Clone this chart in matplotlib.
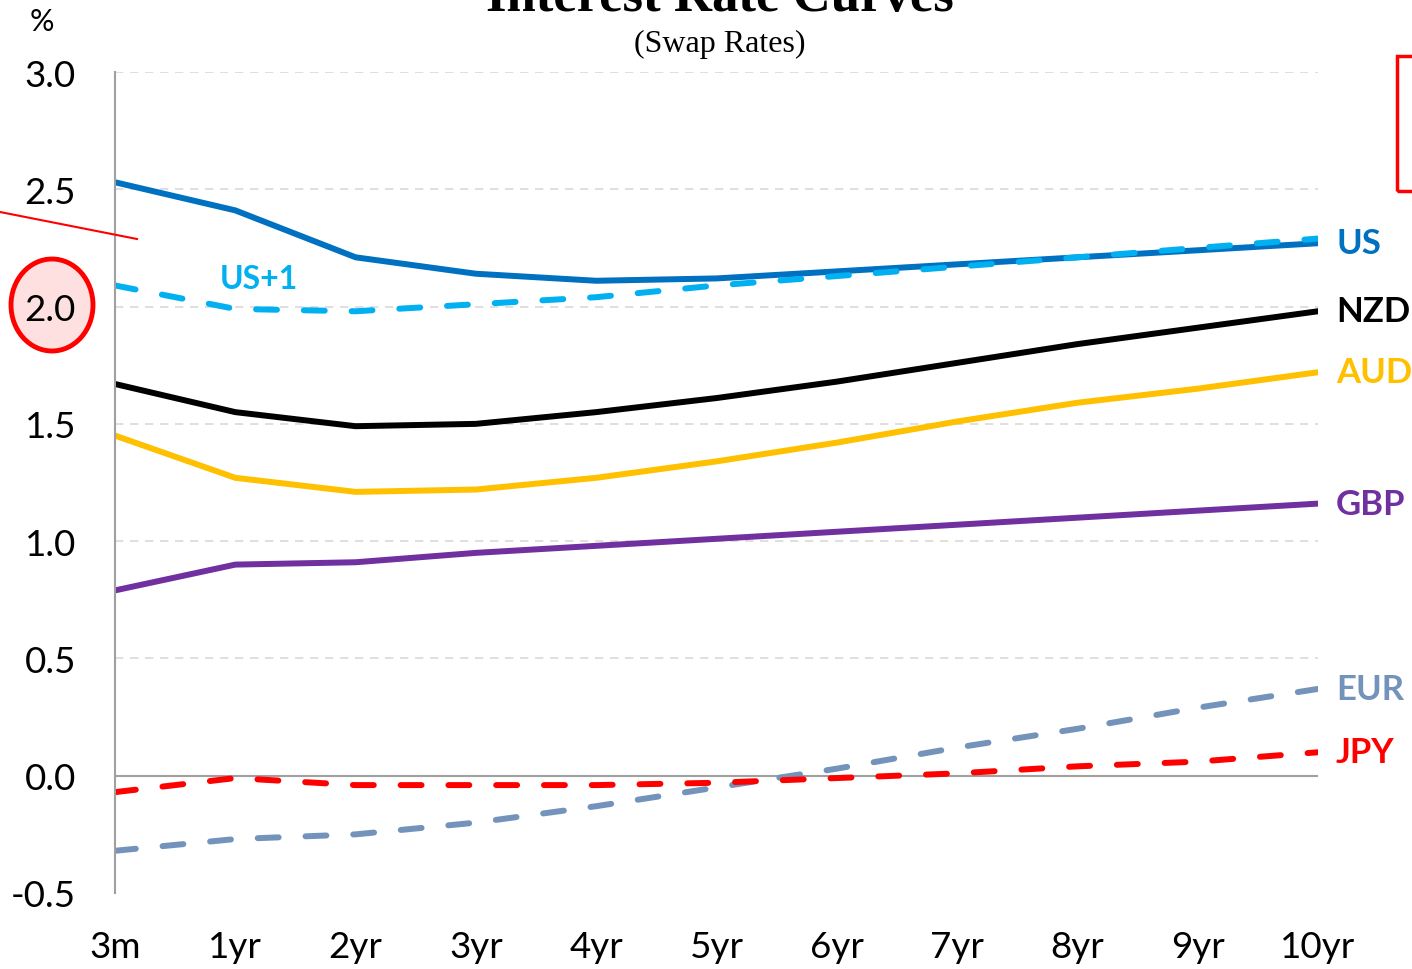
import numpy as np
import matplotlib.pyplot as plt
from matplotlib.patches import Ellipse, Rectangle
from matplotlib.lines import Line2D

tenors = ["3m", "1yr", "2yr", "3yr", "4yr", "5yr", "6yr", "7yr", "8yr", "9yr", "10yr"]

us = [2.53, 2.41, 2.21, 2.14, 2.11, 2.12, 2.15, 2.18, 2.21, 2.24, 2.27]
us_plus1 = [2.09, 1.99, 1.98, 2.01, 2.04, 2.09, 2.13, 2.17, 2.21, 2.25, 2.29]
nzd = [1.67, 1.55, 1.49, 1.50, 1.55, 1.61, 1.68, 1.76, 1.84, 1.91, 1.98]
aud = [1.45, 1.27, 1.21, 1.22, 1.27, 1.34, 1.42, 1.51, 1.59, 1.65, 1.72]
gbp = [0.79, 0.90, 0.91, 0.95, 0.98, 1.01, 1.04, 1.07, 1.10, 1.13, 1.16]
eur = [-0.32, -0.27, -0.25, -0.20, -0.13, -0.05, 0.03, 0.12, 0.20, 0.29, 0.37]
jpy = [-0.07, -0.01, -0.04, -0.04, -0.04, -0.03, -0.01, 0.01, 0.04, 0.06, 0.10]

W, H = 1412, 970
fig = plt.figure(figsize=(W / 100, H / 100), dpi=100)
ax = fig.add_axes([115 / W, (H - 894) / H, (1318 - 115) / W, (894 - 73) / H])

x = np.arange(len(tenors))
lw = 4.3
dash = (0, (3.5, 4.5))
sans = ["Lato", "DejaVu Sans"]
serif = ["Liberation Serif", "DejaVu Serif"]

for yv in np.arange(0.5, 3.01, 0.5):
    ax.axhline(yv, color="#d9d9d9", lw=1.2, ls=(0, (5, 4)), zorder=0)
ax.axhline(0, color="#a0a0a0", lw=1.5, zorder=1)

ax.plot(x, eur, color="#7393BA", lw=lw, ls=dash, dash_capstyle="round")
ax.plot(x, jpy, color="#FF0000", lw=lw, ls=dash, dash_capstyle="round")
ax.plot(x, gbp, color="#7030A0", lw=lw)
ax.plot(x, aud, color="#FFC000", lw=lw)
ax.plot(x, nzd, color="#000000", lw=lw)
ax.plot(x, us, color="#0070C0", lw=lw)
ax.plot(x, us_plus1, color="#00B0F0", lw=lw, ls=dash, dash_capstyle="round")

ax.set_xlim(0, 10)
ax.set_ylim(-0.5, 3.0)
ax.set_xticks(x)
ax.set_xticklabels(tenors)
ax.set_yticks(np.arange(-0.5, 3.01, 0.5))
ax.set_yticklabels([f"{v:.1f}" for v in np.arange(-0.5, 3.01, 0.5)])
for s in ["top", "right", "bottom"]:
    ax.spines[s].set_visible(False)
ax.spines["left"].set_color("#a0a0a0")
ax.spines["left"].set_linewidth(1.5)
ax.tick_params(length=0, labelsize=26.5)
ax.tick_params(axis="y", pad=28)
ax.tick_params(axis="x", pad=27)
for lab in ax.get_xticklabels() + ax.get_yticklabels():
    lab.set_family(sans)

# end labels
labels = [("US", us[-1], "#0070C0"), ("NZD", nzd[-1], "#000000"), ("AUD", aud[-1], "#FFC000"),
          ("GBP", gbp[-1], "#7030A0"), ("EUR", eur[-1], "#7393BA"), ("JPY", jpy[-1], "#FF0000")]
for name, yv, c in labels:
    ax.text(10.15, yv, name, color=c, fontsize=25, fontweight="bold", va="center", ha="left",
            family=sans, clip_on=False)
ax.text(1.2, 2.12, "US+1", color="#00B0F0", fontsize=23, fontweight="bold", ha="center", va="center",
        family=sans)

fig.text(720 / W, 1 - 11 / H, "Interest Rate Curves", ha="center", va="baseline", fontsize=38,
         fontweight="bold", family=serif)
fig.text(720 / W, 1 - 44 / H, "(Swap Rates)", ha="center", va="center", fontsize=23, family=serif)
fig.text(42 / W, 1 - 22 / H, "%", ha="center", va="center", fontsize=22, family=sans)

# annotation marks
fig.add_artist(Ellipse((52 / W, 1 - 306 / H), 82 / W, 92 / H, transform=fig.transFigure,
                       facecolor="#FFE0E0", edgecolor="#FF0000", lw=3.5, zorder=-1))
fig.add_artist(Line2D([0, 137 / W], [1 - 213 / H, 1 - 240 / H], transform=fig.transFigure,
                      color="#FF0000", lw=1.5))
fig.add_artist(Rectangle((1397 / W, 1 - 192 / H), 40 / W, 135 / H, transform=fig.transFigure,
                         facecolor="none", edgecolor="#FF0000", lw=2.5))

fig.savefig("out.png", dpi=100)
